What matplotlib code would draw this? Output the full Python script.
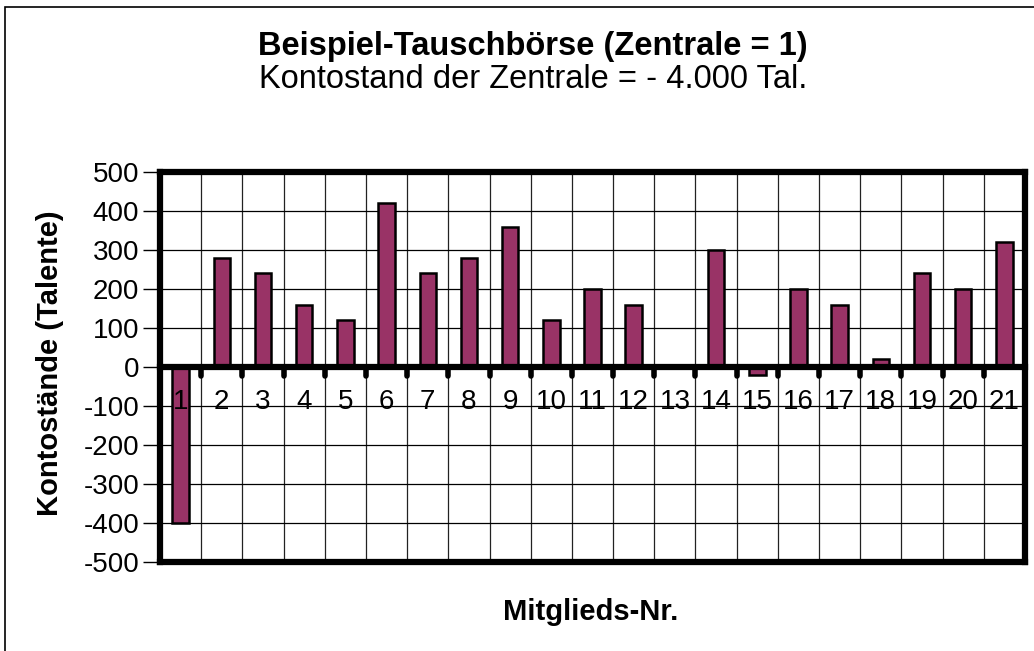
import numpy as np
import matplotlib
matplotlib.use('Agg')
import matplotlib.pyplot as plt
from matplotlib.patches import Rectangle

plt.rcParams['font.family'] = ['Liberation Sans', 'DejaVu Sans']

# Kontostaende der Mitglieder
mitglieder = list(range(1, 22))
kontostand = [-400, 280, 240, 160, 120, 420, 240, 280, 360, 120, 200,
              160, 0, 300, -20, 200, 160, 20, 240, 200, 320]
y_ticks = [-500, -400, -300, -200, -100, 0, 100, 200, 300, 400, 500]

W, H = 1034, 651
fig = plt.figure(figsize=(W / 100, H / 100), dpi=100)

# outer frame (only left/top edges visible in the original)
fig.patches.append(Rectangle((5 / W, -0.1), 1.2, 1 - 7 / H + 0.1, transform=fig.transFigure,
                             fill=False, edgecolor='black', linewidth=1.2))

left, right, top, bottom = 160, 1025, 172, 562
ax = fig.add_axes([left / W, 1 - bottom / H, (right - left) / W, (bottom - top) / H])
ax.set_axisbelow(False)

x = np.arange(len(mitglieder))
ax.bar(x, kontostand, width=0.4, color='#993366', edgecolor='black', linewidth=1.8, zorder=2)

ax.set_xlim(-0.5, len(mitglieder) - 0.5)
ax.set_ylim(-500, 500)

# grid
bounds = np.arange(0.5, len(mitglieder) - 0.5)
for b in bounds:
    ax.axvline(b, color='#222222', linewidth=0.9, zorder=1)
for v in y_ticks[1:-1]:
    ax.axhline(v, color='black', linewidth=0.9, zorder=1)

# frame + zero line
for s in ['left', 'right', 'top', 'bottom']:
    ax.spines[s].set_linewidth(4.5)
ax.spines['bottom'].set_position(('data', 0))
ax.axhline(-500, color='black', linewidth=4.5, clip_on=False, zorder=4)

ax.set_yticks(y_ticks)
ax.set_yticklabels([str(v) for v in y_ticks], fontsize=20)
ax.tick_params(axis='y', direction='out', length=12, width=1, pad=3)

# x "bullet" ticks at category boundaries (round ends), labels at centres
ax.vlines(bounds, -22, 0, colors='black', linewidth=4, capstyle='round', zorder=3)
ax.set_xticks(x)
ax.set_xticklabels([str(m) for m in mitglieder], fontsize=20)
ax.tick_params(axis='x', length=0, pad=16)

fig.text(533 / W, 1 - 47 / H, 'Beispiel-Tauschbörse (Zentrale = 1)', ha='center', va='center',
         fontsize=23.5, fontweight='bold')
fig.text(533 / W, 1 - 80 / H, 'Kontostand der Zentrale = - 4.000 Tal.', ha='center', va='center',
         fontsize=23.5)
fig.text(50 / W, 1 - 363 / H, 'Kontostände (Talente)', ha='center', va='center',
         rotation=90, fontsize=21, fontweight='bold')
fig.text(591 / W, 1 - 612 / H, 'Mitglieds-Nr.', ha='center', va='center',
         fontsize=21, fontweight='bold')

fig.savefig('out.png', dpi=100)
